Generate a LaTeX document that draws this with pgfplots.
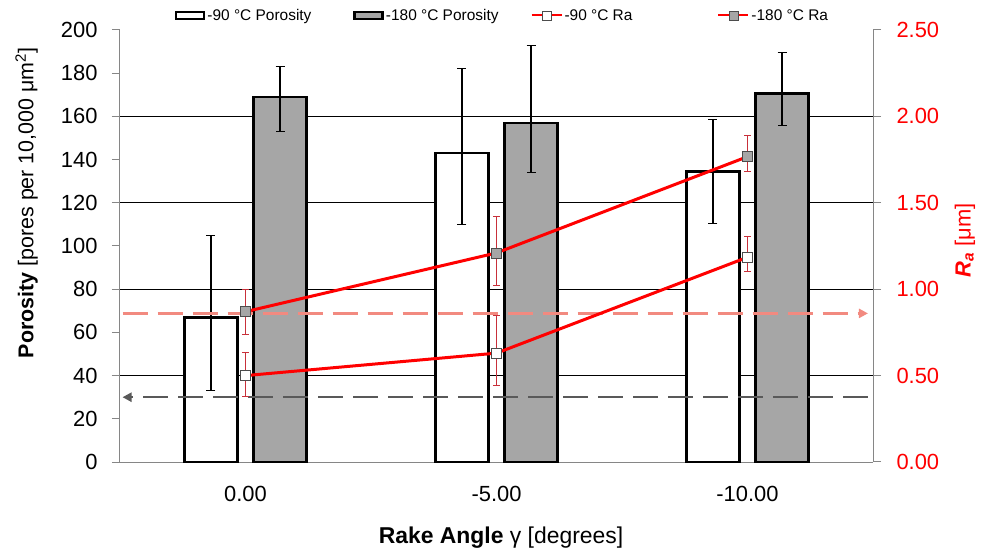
\documentclass[border=0pt]{standalone}
\usepackage{fontspec}
\setmainfont{Liberation Sans}
\usepackage{pgfplots}
\usepackage{pgfplotstable}
\pgfplotsset{compat=1.18}
\usetikzlibrary{arrows.meta}

\definecolor{barGray}{HTML}{A6A6A6}
\definecolor{axGray}{HTML}{868686}
\definecolor{raRed}{HTML}{FF0000}
\definecolor{errRed}{HTML}{C8303A}
\definecolor{salmon}{HTML}{F28A80}
\definecolor{dashGray}{HTML}{595959}

% porosity (left axis): x = category index (0 -> 0.00, 1 -> -5.00, 2 -> -10.00)
\pgfplotstableread{
x y em ep
0 67 34 38
1 143 33 39
2 134.5 24 24
}\porlow
\pgfplotstableread{
x y em ep
0 169 16 14
1 157 23 36
2 170.7 15 19
}\porhigh
% Ra (right axis)
\pgfplotstableread{
x y em ep
0 0.50 0.12 0.135
1 0.63 0.19 0.215
2 1.185 0.08 0.12
}\ralow
\pgfplotstableread{
x y em ep
0 0.87 0.13 0.13
1 1.21 0.19 0.21
2 1.767 0.087 0.12
}\rahigh

\pgfplotsset{
  common/.style={
    width=753bp, height=432bp, scale only axis,
    xmin=-0.5, xmax=2.5, clip=false,
    axis line style={axGray, line width=1bp},
    tick style={axGray, line width=1bp},
    tick align=outside, major tick length=8bp,
    ticklabel style={font=\fontsize{22}{26}\selectfont},
    /pgf/number format/assume math mode=true,
  },
  barerr/.style={error bars/.cd, y dir=both, y explicit,
    error bar style={black, line width=1.2bp},
    error mark options={rotate=90, black, mark size=4.5bp, line width=1.2bp}},
  raerr/.style={error bars/.cd, y dir=both, y explicit,
    error bar style={errRed, line width=1bp},
    error mark options={rotate=90, errRed, mark size=3.5bp, line width=1bp}},
}

\begin{document}
\begin{tikzpicture}
\useasboundingbox (-120bp,-94bp) rectangle (869bp,462bp);
\begin{axis}[common,
    axis x line*=bottom, axis y line*=left,
    ymin=0, ymax=200, ytick={0,20,...,200},
    xtick={0,1,2}, xticklabels={0.00,-5.00,-10.00},
    major x tick style={draw=none},
    extra x ticks={0.5,1.5}, extra x tick labels={},
    extra x tick style={major tick length=8bp},
    extra y ticks={40,80,120,160}, extra y tick labels={},
    extra y tick style={grid=major, major grid style={black, line width=1bp}},
    xticklabel style={yshift=-13bp},
    yticklabel style={xshift=-11bp},
    xlabel={\textbf{Rake Angle} γ [degrees]},
    ylabel={\textbf{Porosity} [pores per 10,000 μm\textsuperscript{2}]},
    xlabel style={font=\fontsize{23}{27}\selectfont, at={(axis description cs:0.506,-0.174)}, anchor=center},
    ylabel style={font=\fontsize{21.5}{26}\selectfont, at={(axis description cs:-0.124,0.6)}, anchor=center},
  ]
  \addplot[ybar, bar width=53bp, bar shift=0pt, fill=white, draw=black, line width=2.5bp, barerr]
    table[x expr=\thisrow{x}-0.1375, y=y, y error plus=ep, y error minus=em]{\porlow};
  \addplot[ybar, bar width=53bp, bar shift=0pt, fill=barGray, draw=black, line width=2.5bp, barerr]
    table[x expr=\thisrow{x}+0.1375, y=y, y error plus=ep, y error minus=em]{\porhigh};
  \addplot[dashGray, line width=2.5bp, dash pattern=on 25bp off 10bp,
    -{Triangle[length=9bp, width=9bp]}] coordinates {(2.48,30) (-0.49,30)};
\end{axis}

\begin{axis}[common,
    axis x line=none, axis y line*=right,
    ymin=0, ymax=2.5, ytick={0,0.5,...,2.5},
    yticklabel style={raRed, xshift=12bp, /pgf/number format/.cd, fixed, fixed zerofill, precision=2},
    ylabel={\textbf{\textit{R\textsubscript{a}}} [μm]},
    ylabel style={raRed, font=\fontsize{22}{26}\selectfont, at={(axis description cs:1.122,0.513)}, anchor=center},
    legend style={at={(0.5,1)}, anchor=south, xshift=6bp, yshift=4bp, draw=none, fill=none,
      legend columns=4, font=\fontsize{15.5}{18}\selectfont,
      /tikz/column 2/.style={column sep=40bp},
      /tikz/column 4/.style={column sep=30bp},
      /tikz/column 6/.style={column sep=83bp}},
  ]
  \addlegendimage{legend image code/.code={\draw[fill=white, draw=black, line width=2.5bp] (0bp,-3.5bp) rectangle (28bp,3.5bp);}}
  \addlegendentry{-90 °C Porosity}
  \addlegendimage{legend image code/.code={\draw[fill=barGray, draw=black, line width=2.5bp] (0bp,-3.5bp) rectangle (28bp,3.5bp);}}
  \addlegendentry{-180 °C Porosity}
  \addplot[salmon, line width=2.5bp, dash pattern=on 25bp off 10bp, forget plot,
    -{Triangle[length=9bp, width=9bp]}] coordinates {(-0.49,0.86) (2.48,0.86)};
  \addplot[raRed, line width=3bp, mark=square*,
    mark options={solid, fill=white, draw=black!70, line width=0.8bp, mark size=5bp},
    legend image code/.code={\draw[raRed, line width=2bp] (0bp,0bp)--(30bp,0bp);
      \draw[fill=white, draw=black!70, line width=0.8bp] (10.5bp,-4.5bp) rectangle (19.5bp,4.5bp);},
    raerr]
    table[x=x, y=y, y error plus=ep, y error minus=em]{\ralow};
  \addlegendentry{-90 °C Ra}
  \addplot[raRed, line width=3bp, mark=square*,
    mark options={solid, fill=barGray, draw=black!70, line width=0.8bp, mark size=5bp},
    legend image code/.code={\draw[raRed, line width=2bp] (0bp,0bp)--(30bp,0bp);
      \draw[fill=barGray, draw=black!70, line width=0.8bp] (10.5bp,-4.5bp) rectangle (19.5bp,4.5bp);},
    raerr]
    table[x=x, y=y, y error plus=ep, y error minus=em]{\rahigh};
  \addlegendentry{-180 °C Ra}
\end{axis}
\end{tikzpicture}
\end{document}
